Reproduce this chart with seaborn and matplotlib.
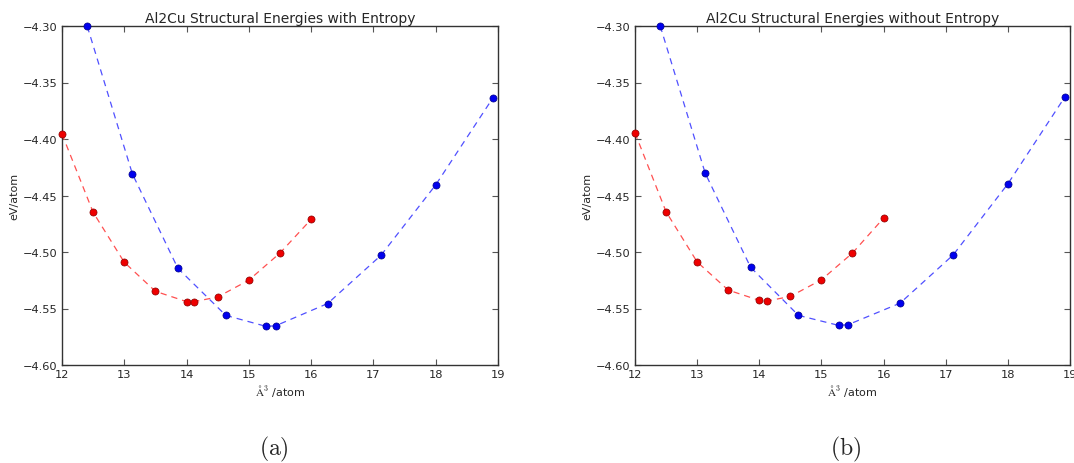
import matplotlib
matplotlib.use("Agg")
import matplotlib.pyplot as plt
import seaborn as sns
import pandas as pd

# Volume per atom (Å^3) and energy per atom (eV) for the two Al2Cu structures
vol_red = [12.0, 12.5, 13.0, 13.5, 14.0, 14.125, 14.5, 15.0, 15.5, 16.0]
vol_blue = [12.406, 13.13, 13.86, 14.63, 15.275, 15.43, 16.265, 17.12, 18.0, 18.92]

# with entropy
e_red_s = [-4.3956, -4.4649, -4.5091, -4.5348, -4.5439, -4.5439, -4.5398, -4.5249, -4.5009, -4.4711]
e_blue_s = [-4.3003, -4.4309, -4.5144, -4.5561, -4.5658, -4.5653, -4.5456, -4.5030, -4.4406, -4.3635]

# without entropy
e_red_n = [-4.3946, -4.4644, -4.5088, -4.5337, -4.5428, -4.5434, -4.5393, -4.5246, -4.5009, -4.4700]
e_blue_n = [-4.3000, -4.4303, -4.5135, -4.5561, -4.5649, -4.5643, -4.5453, -4.5026, -4.4397, -4.3626]

titles = ["Al2Cu Structural Energies with Entropy",
          "Al2Cu Structural Energies without Entropy"]
panel_tags = ["(a)", "(b)"]
x_ticks = [12, 13, 14, 15, 16, 17, 18, 19]
y_ticks = [-4.30, -4.35, -4.40, -4.45, -4.50, -4.55, -4.60]

sns.set_style("ticks")
plt.rcParams.update({
    "font.family": ["DejaVu Sans"],
    "mathtext.fontset": "cm",
    "xtick.direction": "in",
    "ytick.direction": "in",
    "xtick.top": True,
    "ytick.right": True,
    "axes.edgecolor": "#333333",
    "axes.linewidth": 1.0,
})

fig = plt.figure(figsize=(10.74, 4.64), dpi=100)
W, H = 1074.0, 464.0
boxes = [(62, 27, 498, 366), (635, 27, 1070, 366)]
tag_x = [274, 846]

series = [(e_red_s, e_blue_s), (e_red_n, e_blue_n)]

for i, ((x0, y0, x1, y1), (er, eb)) in enumerate(zip(boxes, series)):
    ax = fig.add_axes([x0 / W, 1 - y1 / H, (x1 - x0) / W, (y1 - y0) / H])
    df_r = pd.DataFrame({"vol": vol_red, "E": er})
    df_b = pd.DataFrame({"vol": vol_blue, "E": eb})

    sns.lineplot(data=df_b, x="vol", y="E", ax=ax, color="#5050ff",
                 linestyle=(0, (5, 4)), linewidth=0.9, sort=False, zorder=2)
    sns.lineplot(data=df_r, x="vol", y="E", ax=ax, color="#ff5050",
                 linestyle=(0, (5, 4)), linewidth=0.9, sort=False, zorder=2)
    sns.scatterplot(data=df_b, x="vol", y="E", ax=ax, color="#0000ee",
                    edgecolor="#000088", linewidth=0.5, s=26, zorder=3, clip_on=False)
    sns.scatterplot(data=df_r, x="vol", y="E", ax=ax, color="#ee0000",
                    edgecolor="#880000", linewidth=0.5, s=26, zorder=3, clip_on=False)

    ax.set_xlim(12, 19)
    ax.set_ylim(-4.60, -4.30)
    ax.set_xticks(x_ticks)
    ax.set_yticks(y_ticks)
    ax.set_yticklabels([f"{v:.2f}".replace("-", "\u2212") for v in y_ticks])
    ax.tick_params(labelsize=8.2, length=4, width=0.8, color="#555555", pad=3)
    ax.set_title(titles[i], fontsize=10, pad=3)
    ax.set_xlabel(r"$\mathrm{\AA}^3$ /atom", fontsize=8, labelpad=2)
    ax.set_ylabel("eV/atom", fontsize=8, labelpad=3)
    for sp in ax.spines.values():
        sp.set_visible(True)

    fig.text(tag_x[i] / W, 1 - 449 / H, r"$\mathrm{%s}$" % panel_tags[i],
             fontsize=17, ha="center", va="center")

fig.savefig("out.png", dpi=100)
